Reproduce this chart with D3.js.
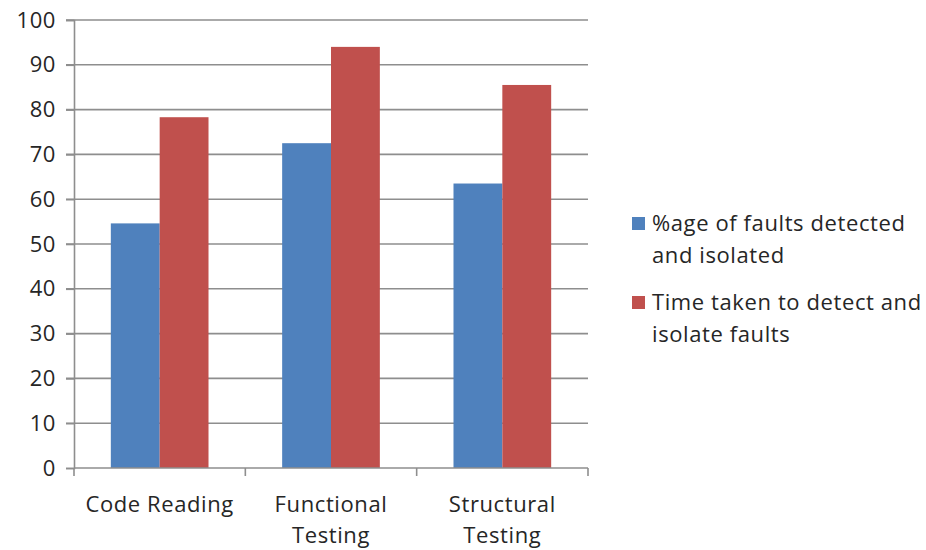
<!DOCTYPE html>
<html>
<head>
<meta charset="utf-8">
<script src="https://cdn.jsdelivr.net/npm/d3@7"></script>
<style>
  html, body { margin: 0; padding: 0; background: #ffffff; }
  svg { display: block; }
  text { font-family: "Open Sans", "DejaVu Sans", sans-serif; fill: #262626; letter-spacing: 0.6px; }
</style>
</head>
<body>
<svg id="chart" width="926" height="550"></svg>
<script>
// Categories (each label may wrap onto two lines)
const categories = ["Code Reading", "Functional Testing", "Structural Testing"];
const categoryLines = [["Code Reading"], ["Functional", "Testing"], ["Structural", "Testing"]];

// Series
const seriesNames = ["%age of faults detected and isolated", "Time taken to detect and isolate faults"];
const seriesLegendLines = [["%age of faults detected", "and isolated"], ["Time taken to detect and", "isolate faults"]];
const detectedValues = [54.6, 72.5, 63.5];
const timeTakenValues = [78.3, 94.0, 85.5];

// Y axis ticks
const yTicks = [0, 10, 20, 30, 40, 50, 60, 70, 80, 90, 100];

const colors = ["#4F81BD", "#C0504D"];
const gridColor = "#8e8e8e";
const fontSize = 22;

const svg = d3.select("#chart");
const plot = { left: 74, right: 588, top: 20, bottom: 468 };

const y = d3.scaleLinear().domain([0, 100]).range([plot.bottom, plot.top]);
const x0 = d3.scaleBand().domain(categories).range([plot.left, plot.right]).padding(0);
const x1 = d3.scaleBand().domain(seriesNames).range([0, x0.bandwidth()])
  .paddingInner(0).paddingOuter(0.754);

const rows = categories.map((c, i) => ({
  category: c,
  values: [
    { series: seriesNames[0], value: detectedValues[i] },
    { series: seriesNames[1], value: timeTakenValues[i] }
  ]
}));

// Horizontal gridlines
svg.append("g")
  .selectAll("line")
  .data(yTicks.filter(d => d > 0))
  .join("line")
  .attr("x1", plot.left - 8)
  .attr("x2", plot.right)
  .attr("y1", d => y(d))
  .attr("y2", d => y(d))
  .attr("stroke", gridColor)
  .attr("stroke-width", 1.6);

// Bars
const groups = svg.append("g")
  .selectAll("g")
  .data(rows)
  .join("g")
  .attr("transform", d => `translate(${x0(d.category)},0)`);

groups.selectAll("rect")
  .data(d => d.values)
  .join("rect")
  .attr("x", d => x1(d.series))
  .attr("width", x1.bandwidth())
  .attr("y", d => y(d.value))
  .attr("height", d => y(0) - y(d.value))
  .attr("fill", (d, i) => colors[i]);

// Y axis
const yAxis = svg.append("g")
  .attr("transform", `translate(${plot.left},0)`)
  .call(d3.axisLeft(y).tickValues(yTicks).tickSize(8).tickPadding(10));
yAxis.select(".domain").attr("stroke", gridColor).attr("stroke-width", 1.6);
yAxis.selectAll(".tick line").attr("stroke", gridColor).attr("stroke-width", 1.6);
yAxis.selectAll(".tick text")
  .attr("font-size", fontSize)
  .attr("font-family", "\"Open Sans\", sans-serif")
  .attr("fill", "#262626");

// X axis with category boundary ticks
const xAxisG = svg.append("g");
xAxisG.append("line")
  .attr("x1", plot.left).attr("x2", plot.right)
  .attr("y1", plot.bottom).attr("y2", plot.bottom)
  .attr("stroke", gridColor).attr("stroke-width", 1.6);
const boundaries = categories.map(c => x0(c)).concat([x0(categories[categories.length - 1]) + x0.bandwidth()]);
xAxisG.selectAll("line.bt")
  .data(boundaries)
  .join("line")
  .attr("class", "bt")
  .attr("x1", d => d).attr("x2", d => d)
  .attr("y1", plot.bottom).attr("y2", plot.bottom + 8)
  .attr("stroke", gridColor).attr("stroke-width", 1.6);

categories.forEach((c, i) => {
  categoryLines[i].forEach((line, j) => {
    xAxisG.append("text")
      .attr("class", "cat")
      .attr("text-anchor", "middle")
      .attr("font-size", fontSize)
      .attr("x", x0(c) + x0.bandwidth() / 2)
      .attr("y", 512 + j * 31)
      .text(line);
  });
});

// Legend
const legend = svg.append("g").attr("transform", "translate(632,0)");
const legendTop = [217, 296];
seriesNames.forEach((name, i) => {
  const g = legend.append("g").attr("transform", `translate(0,${legendTop[i]})`);
  g.append("rect").attr("width", 13).attr("height", 13).attr("fill", colors[i]);
  seriesLegendLines[i].forEach((line, j) => {
    g.append("text")
      .attr("x", 20)
      .attr("y", 14 + j * 32)
      .attr("font-size", fontSize)
      .text(line);
  });
});
</script>
</body>
</html>
